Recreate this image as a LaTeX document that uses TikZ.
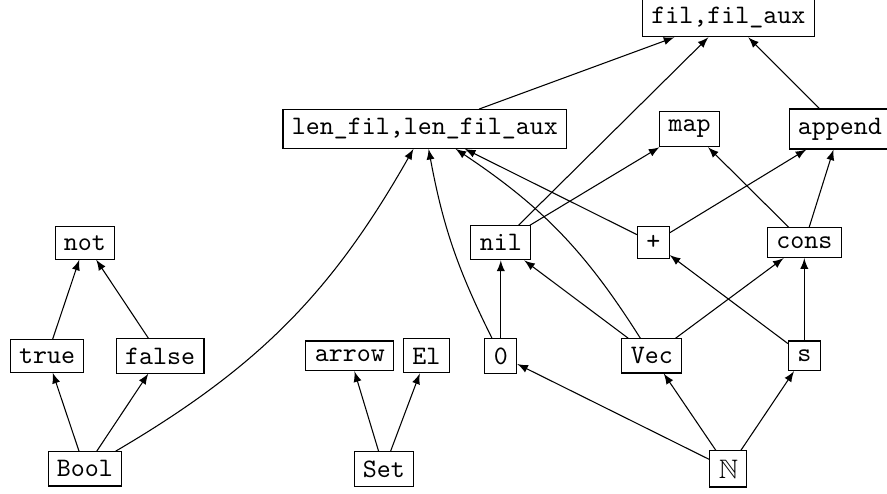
\documentclass[tikz,border=0pt]{standalone}
\usepackage{amssymb}

\tikzset{
  sym/.style={draw, font=\ttfamily},
}

\begin{document}
\begin{tikzpicture}[>=latex]
  \useasboundingbox (0,0) rectangle (11.69,6.50);

  % rows, from the top
  \node[sym] (fil)    at (9.60,6.27)  {fil,fil\_aux};
  \node[sym] (len)    at (5.60,4.80)  {len\_fil,len\_fil\_aux};
  \node[sym] (map)    at (9.09,4.80)  {map};
  \node[sym] (append) at (11.07,4.80) {append};

  \node[sym] (not)    at (1.12,3.30)  {not};
  \node[sym] (nil)    at (6.60,3.30)  {nil};
  \node[sym] (plus)   at (8.61,3.30)  {+};
  \node[sym] (cons)   at (10.60,3.30) {cons};

  \node[sym] (true)   at (0.62,1.81)  {true};
  \node[sym] (false)  at (2.11,1.81)  {false};
  \node[sym] (arrow)  at (4.61,1.81)  {arrow};
  \node[sym] (el)     at (5.62,1.81)  {El};
  \node[sym] (zero)   at (6.60,1.81)  {0};
  \node[sym] (vec)    at (8.59,1.81)  {Vec};
  \node[sym] (succ)   at (10.60,1.81) {s};

  \node[sym] (bool)   at (1.12,0.32)  {Bool};
  \node[sym] (set)    at (5.06,0.32)  {Set};
  \node[draw] (nat)   at (9.60,0.32)  {$\mathbb{N}$};

  \foreach \from/\to in {bool/true,bool/false,true/not,false/not,
      set/arrow,set/el,nat/zero,nat/vec,nat/succ,
      zero/nil,vec/nil,vec/cons,succ/plus,succ/cons,
      nil/map,nil/fil,cons/map,cons/append,plus/append,plus/len,
      len/fil,append/fil}
    \draw[->] (\from) -- (\to);

  \draw[->] (bool) to[bend right=15] (len);
  \draw[->] (zero) to[bend left=8] (len);
  \draw[->] (vec) to[bend right=12] (len);
\end{tikzpicture}
\end{document}
